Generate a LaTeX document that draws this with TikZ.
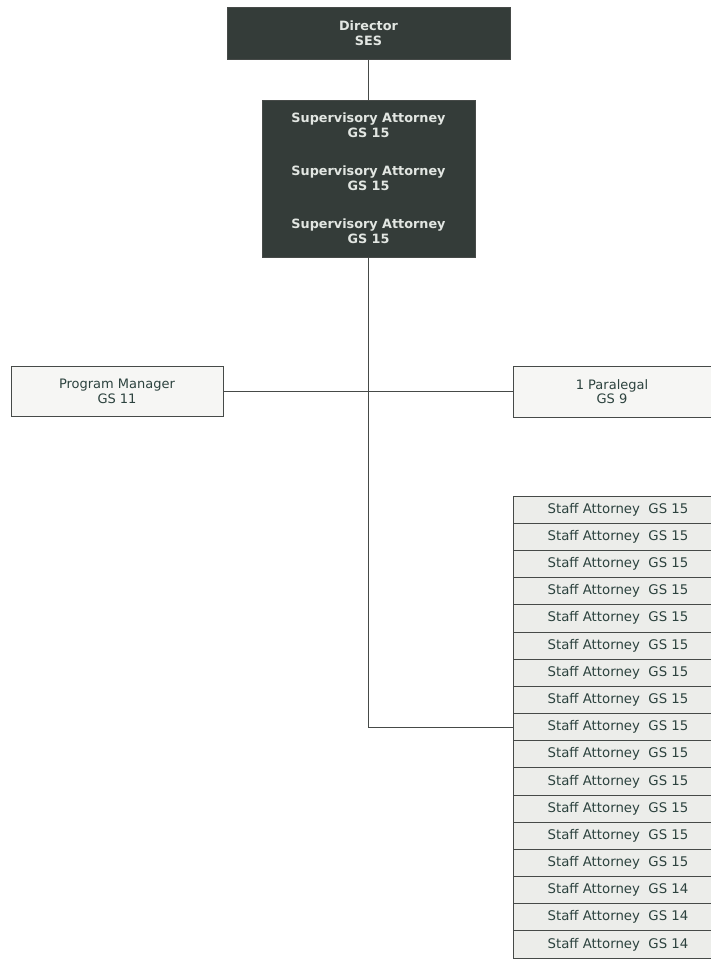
\documentclass[tikz,border=0pt]{standalone}
\usepackage{fontspec}
\setmainfont{DejaVu Sans}
\definecolor{orgdark}{RGB}{52,60,57}
\definecolor{orgpale}{RGB}{226,230,226}
\definecolor{orgink}{RGB}{44,66,62}
\definecolor{orgline}{RGB}{70,74,72}
\definecolor{orgpaper}{RGB}{246,246,244}
\definecolor{orgcell}{RGB}{236,237,234}
\usetikzlibrary{positioning}
\tikzset{
  darkbox/.style={draw=orgline,fill=orgdark,text=orgpale,font=\bfseries\fontsize{12.8}{15}\selectfont,align=center,inner sep=0pt},
  lightbox/.style={draw=orgline,fill=orgpaper,text=orgink,font=\fontsize{13}{14.5}\selectfont,align=center,inner sep=0pt},
  staffbox/.style={draw=orgline,fill=orgcell,text=orgink,font=\fontsize{13.3}{14}\selectfont,minimum width=210pt,minimum height=27.18pt,inner sep=0pt},
  link/.style={orgline,line width=0.8pt}
}
\begin{document}
\begin{tikzpicture}[x=1pt,y=-1pt,line width=0.8pt]
  \fill[white] (0,0) rectangle (711,961);
  \useasboundingbox (0,0) rectangle (711,961);
  \node[darkbox,minimum width=283pt,minimum height=52pt] (dir) at (368.5,33) {Director\\SES};
  \node[darkbox,minimum width=213pt,minimum height=157pt] (sup) at (368.5,178.5) {Supervisory Attorney\\GS 15\\[23pt]Supervisory Attorney\\GS 15\\[23pt]Supervisory Attorney\\GS 15};
  \node[lightbox,minimum width=212pt,minimum height=50pt] (pm) at (117,391.5) {Program Manager\\GS 11};
  \node[lightbox,minimum width=198pt,minimum height=51pt] (para) at (612,391.5) {1 Paralegal\\GS 9};
  % staff attorneys
  \foreach \i in {1,...,17}{
    \pgfmathtruncatemacro\g{\i<15 ? 15 : 14}
    \node[staffbox] (s\i) at (618,{496+(\i-0.5)*27.18}) {Staff Attorney~~GS \g};
  }
  \draw[link] (dir) -- (sup);
  \draw[link] (pm.east) -- (para.west);
  \draw[link] (sup.south) |- (s9.west);
\end{tikzpicture}
\end{document}
